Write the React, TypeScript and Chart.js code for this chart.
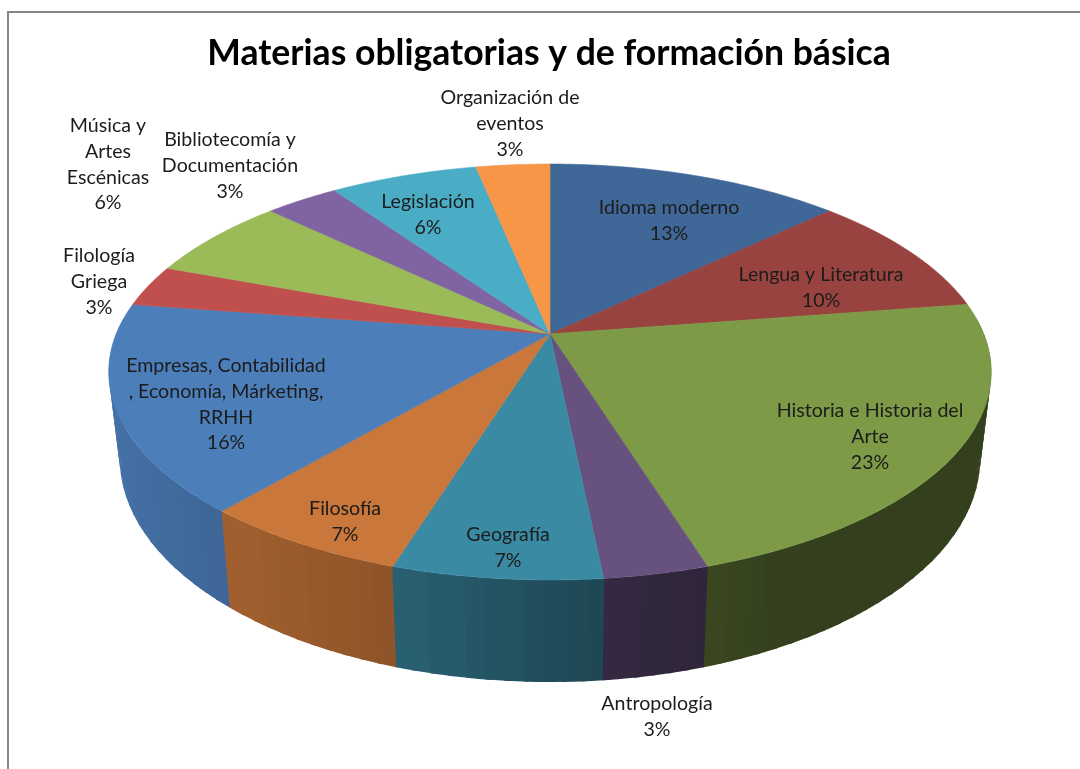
import React, { useEffect, useRef } from "react";
import { Chart, PieController, ArcElement, Title } from "chart.js";

const chartTitle = "Materias obligatorias y de formación básica";

const categories = [
  "Idioma moderno", "Lengua y Literatura", "Historia e Historia del Arte", "Antropología",
  "Geografía", "Filosofía", "Empresas, Contabilidad, Economía, Márketing, RRHH",
  "Filología Griega", "Música y Artes Escénicas", "Bibliotecomía y Documentación",
  "Legislación", "Organización de eventos",
];
const subjectCounts = [4, 3, 7, 1, 2, 2, 5, 1, 2, 1, 2, 1];
const percentLabels = ["13%", "10%", "23%", "3%", "7%", "7%", "16%", "3%", "6%", "3%", "6%", "3%"];
const sliceColors = [
  "#3f6797", "#984340", "#7d9a47", "#67517f", "#3b8aa3", "#c9773a",
  "#4c7eba", "#c0504d", "#9bbb59", "#8064a2", "#4bacc6", "#f79646",
];

// Wrapped text of each label, and where its block sits (centre x, first line middle y).
const labelLines = [
  ["Idioma moderno"], ["Lengua y Literatura"], ["Historia e Historia del", "Arte"], ["Antropología"],
  ["Geografía"], ["Filosofía"], ["Empresas, Contabilidad", ", Economía, Márketing,", "RRHH"],
  ["Filología", "Griega"], ["Música y", "Artes", "Escénicas"], ["Bibliotecomía y", "Documentación"],
  ["Legislación"], ["Organización de", "eventos"],
];
const labelAnchors = [
  [669, 208], [821, 275], [870, 411], [657, 704], [508, 535], [345, 509],
  [226, 366], [99, 256], [108, 126], [230, 140], [428, 202], [510, 98],
];
const LABEL_LINE = 25.7;

// Perspective of the tilted disc.
const CX = 550, K = -0.1827, RX_TOP = 433.8, RX_BOTTOM = 423, DEPTH_SLOPE = 140, Y_TOP = 334, Y_BOTTOM = 417.4;
const project = (angle: number, bottom: boolean) => {
  const u = Math.cos(angle), t = Math.sin(angle), d = 1 + K * t;
  return {
    x: CX + ((bottom ? RX_BOTTOM : RX_TOP) * u) / d,
    y: (DEPTH_SLOPE * t + (bottom ? Y_BOTTOM : Y_TOP)) / d,
    t,
  };
};

// Wall shade against x: multiplier applied to the slice colour.
const shadeStops = [[100, 0.9], [232, 0.8], [398, 0.7], [603, 0.51], [706, 0.46], [800, 0.41], [1000, 0.41]];
const shadeAt = (x: number) => {
  for (let i = 1; i < shadeStops.length; i++) {
    const [x0, s0] = shadeStops[i - 1], [x1, s1] = shadeStops[i];
    if (x <= x1) return s0 + ((s1 - s0) * Math.max(0, x - x0)) / (x1 - x0);
  }
  return 0.41;
};
const shadeColor = (hex: string, s: number) => {
  const n = parseInt(hex.slice(1), 16);
  return `rgb(${Math.round(((n >> 16) & 255) * s)},${Math.round(((n >> 8) & 255) * s)},${Math.round((n & 255) * s)})`;
};

class TiltedArc extends ArcElement {
  static id = "tiltedArc";
  draw(ctx: CanvasRenderingContext2D) {
    const { startAngle, endAngle } = this.getProps(["startAngle", "endAngle"]) as any;
    const steps = Math.max(2, Math.ceil((endAngle - startAngle) / 0.015));
    ctx.save();
    ctx.beginPath();
    ctx.moveTo(CX, Y_TOP);
    for (let i = 0; i <= steps; i++) {
      const p = project(startAngle + ((endAngle - startAngle) * i) / steps, false);
      ctx.lineTo(p.x, p.y);
    }
    ctx.closePath();
    ctx.fillStyle = (this as any).options.backgroundColor;
    ctx.strokeStyle = (this as any).options.backgroundColor;
    ctx.lineWidth = 0.6;
    ctx.fill();
    ctx.stroke();
    ctx.restore();
  }
}

class TiltedPieController extends PieController {
  static id = "tiltedPie";
  static defaults = { ...(PieController as any).defaults, dataElementType: "tiltedArc" };
}

const wallPlugin = {
  id: "wall",
  beforeDatasetsDraw(chart: any) {
    const ctx: CanvasRenderingContext2D = chart.ctx;
    ctx.filter = "none";
    const quads: any[] = [];
    chart.getDatasetMeta(0).data.forEach((arc: any, i: number) => {
      const { startAngle, endAngle } = arc;
      const steps = Math.max(2, Math.ceil((endAngle - startAngle) / 0.04));
      const overlap = 0.005, edgeOverlap = 0.001;
      for (let s = 0; s < steps; s++) {
        const a0 = startAngle + ((endAngle - startAngle) * s) / steps;
        const a1 = startAngle + ((endAngle - startAngle) * (s + 1)) / steps;
        if (Math.sin(a0) < -0.05 && Math.sin(a1) < -0.05) continue;
        quads.push({
          a0: a0 - (s === 0 ? edgeOverlap : overlap),
          a1: a1 + (s === steps - 1 ? edgeOverlap : overlap),
          i,
          t: Math.sin((a0 + a1) / 2),
        });
      }
    });
    quads.sort((p, q) => p.t - q.t);
    ctx.save();
    for (const q of quads) {
      const mid = (q.a0 + q.a1) / 2;
      const A = project(q.a0, false), M = project(mid, false), B = project(q.a1, false);
      const C = project(q.a1, true), N = project(mid, true), D = project(q.a0, true);
      ctx.beginPath();
      ctx.moveTo(A.x, A.y);
      ctx.lineTo(M.x, M.y);
      ctx.lineTo(B.x, B.y);
      ctx.lineTo(C.x, C.y);
      ctx.lineTo(N.x, N.y);
      ctx.lineTo(D.x, D.y);
      ctx.closePath();
      ctx.fillStyle = shadeColor(sliceColors[q.i], shadeAt(M.x));
      ctx.fill();
    }
    ctx.restore();
  },
};

const framePlugin = {
  id: "frame",
  beforeDraw(chart: any) {
    const ctx: CanvasRenderingContext2D = chart.ctx;
    ctx.save();
    ctx.fillStyle = "#ffffff";
    ctx.fillRect(0, 0, chart.width, chart.height);
    ctx.strokeStyle = "#868686";
    ctx.lineWidth = 2;
    ctx.beginPath();
    ctx.moveTo(8, chart.height);
    ctx.lineTo(8, 12);
    ctx.lineTo(chart.width, 12);
    ctx.stroke();
    ctx.restore();
    // The reference is a slightly soft screenshot: the title inherits this softness.
    ctx.filter = "blur(0.45px)";
  },
};

const labelPlugin = {
  id: "sliceLabels",
  afterDatasetsDraw(chart: any) {
    const ctx: CanvasRenderingContext2D = chart.ctx;
    ctx.save();
    ctx.filter = "blur(0.4px)";
    ctx.font = "19.6px Lato";
    ctx.fillStyle = "#1c1c1c";
    ctx.textAlign = "center";
    ctx.textBaseline = "middle";
    labelLines.forEach((lines, i) => {
      const [x, y] = labelAnchors[i];
      [...lines, percentLabels[i]].forEach((line, n) => ctx.fillText(line, x, y + n * LABEL_LINE));
    });
    ctx.restore();
  },
};

Chart.register(TiltedPieController, TiltedArc, Title);

export default function App() {
  const ref = useRef<HTMLCanvasElement>(null);
  useEffect(() => {
    const chart = new Chart(ref.current!, {
      type: "tiltedPie" as any,
      data: {
        labels: categories,
        datasets: [{ data: subjectCounts, backgroundColor: sliceColors, borderWidth: 0 }],
      },
      options: {
        responsive: false,
        animation: false,
        events: [],
        layout: { padding: { left: 18 } },
        plugins: {
          legend: { display: false },
          tooltip: { enabled: false },
          title: {
            display: true,
            text: chartTitle,
            color: "#000000",
            font: { family: "Lato", size: 35.6, weight: "bold" },
            padding: { top: 32, bottom: 10 },
          },
        },
      } as any,
      plugins: [framePlugin, wallPlugin, labelPlugin],
    });
    return () => chart.destroy();
  }, []);
  return (
    <div style={{ position: "absolute", left: 0, top: 0, width: 1080, height: 769 }}>
      <canvas ref={ref} width={1080} height={769} style={{ display: "block" }} />
    </div>
  );
}
